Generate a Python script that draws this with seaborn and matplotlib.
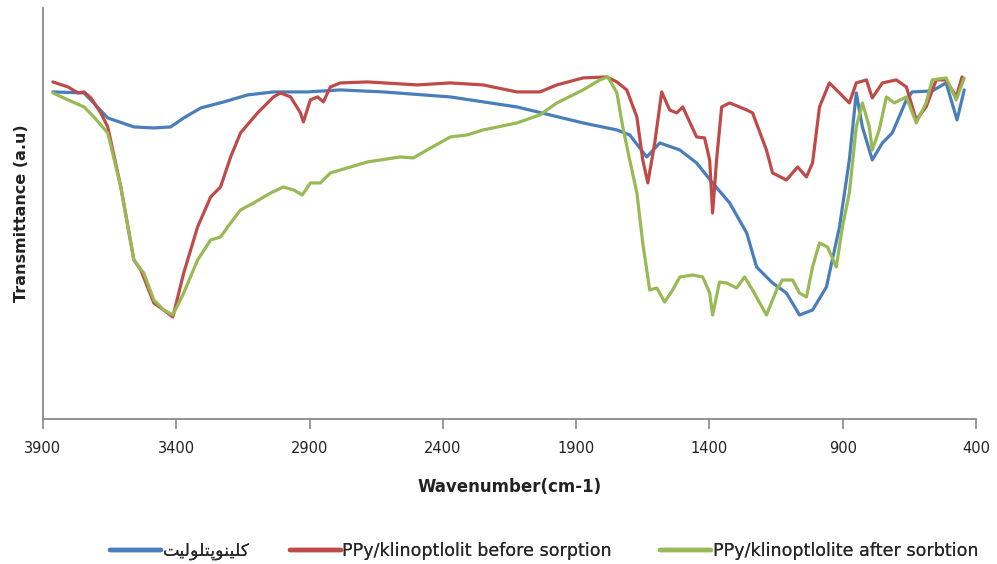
import matplotlib
matplotlib.use("Agg")
import matplotlib.pyplot as plt
import seaborn as sns
import pandas as pd
from matplotlib.lines import Line2D

# ---- data (wavenumber cm-1, transmittance a.u.) ----
blue_wn = [3863, 3746, 3657, 3559, 3484, 3421, 3372, 3308, 3222, 3132, 3035, 2908, 2784, 2623,
           2372, 2122, 1998, 1874, 1747, 1699, 1635, 1586, 1511, 1448, 1388, 1324, 1260, 1223,
           1163, 1111, 1062, 1013, 961, 912, 875, 849, 826, 789, 751, 714, 661, 639, 564, 512,
           471, 444]
blue_px = [92, 93, 118, 127, 128, 127, 118, 108, 102, 95, 92, 92, 90, 92,
           97, 107, 115, 123, 130, 135, 157, 143, 150, 163, 183, 203, 233, 267,
           283, 293, 315, 310, 287, 227, 160, 93, 127, 160, 143, 133, 100, 92, 91, 83,
           120, 90]

red_wn = [3863, 3806, 3769, 3746, 3720, 3683, 3657, 3608, 3559, 3533, 3484, 3447, 3413, 3372,
          3320, 3271, 3234, 3196, 3159, 3095, 3035, 3009, 2971, 2934, 2923, 2897, 2870, 2848,
          2822, 2784, 2683, 2496, 2372, 2249, 2122, 2036, 1972, 1874, 1785, 1747, 1710, 1672,
          1650, 1631, 1605, 1579, 1549, 1523, 1500, 1448, 1418, 1399, 1388, 1373, 1354, 1324,
          1260, 1238, 1186, 1163, 1111, 1069, 1036, 1013, 987, 950, 912, 875, 849, 811, 789,
          751, 699, 661, 624, 587, 549, 512, 474, 452]
red_px = [82, 87, 93, 92, 98, 113, 127, 187, 260, 270, 303, 310, 317, 273,
          227, 197, 187, 157, 133, 113, 97, 93, 97, 113, 122, 100, 97, 102,
          87, 83, 82, 85, 83, 85, 92, 92, 85, 78, 77, 82, 90, 117,
          160, 183, 143, 92, 110, 113, 107, 137, 138, 160, 213, 160, 107, 103,
          110, 113, 150, 173, 180, 167, 177, 163, 107, 83, 93, 103, 83, 80, 98,
          83, 80, 87, 120, 107, 80, 80, 97, 77]

green_wn = [3863, 3806, 3746, 3709, 3657, 3608, 3559, 3522, 3484, 3447, 3413, 3372, 3320, 3271,
            3234, 3196, 3159, 3110, 3046, 2998, 2960, 2927, 2897, 2859, 2822, 2784, 2683, 2560,
            2511, 2459, 2372, 2309, 2249, 2122, 2036, 1972, 1874, 1811, 1781, 1747, 1725, 1699,
            1672, 1650, 1624, 1597, 1568, 1538, 1511, 1463, 1425, 1399, 1388, 1362, 1335, 1298,
            1268, 1238, 1186, 1148, 1126, 1088, 1062, 1036, 1013, 987, 957, 924, 901, 875, 849,
            826, 800, 789, 763, 736, 706, 661, 624, 587, 564, 512, 474, 444]
green_px = [93, 100, 107, 117, 133, 187, 260, 273, 300, 310, 315, 293, 260, 240,
            237, 223, 210, 203, 193, 187, 190, 195, 183, 183, 173, 170, 162, 157,
            158, 150, 137, 135, 130, 123, 115, 103, 90, 80, 77, 93, 127, 160,
            193, 243, 290, 288, 302, 290, 277, 275, 277, 293, 315, 282, 283, 288,
            277, 290, 315, 290, 280, 280, 293, 297, 267, 243, 247, 267, 227, 193, 127,
            103, 127, 150, 130, 97, 103, 97, 123, 103, 80, 78, 100, 78]

series_names = ["کلینوپتلولیت",
                "PPy/klinoptlolit before sorption",
                "PPy/klinoptlolite after sorbtion"]
colors = ["#4A7EBB", "#BE4B48", "#98B954"]
x_ticks = [3900, 3400, 2900, 2400, 1900, 1400, 900, 400]


# --- minimal Arabic-script shaping (matplotlib has no bidi / joining) ---
# char: (isolated, final, initial, medial); None for right-joining-only letters
FORMS = {
    "\u06A9": ("\uFB8E", "\uFB8F", "\uFB90", "\uFB91"),  # keheh
    "\u0644": ("\uFEDD", "\uFEDE", "\uFEDF", "\uFEE0"),  # lam
    "\u06CC": ("\uFBFC", "\uFBFD", "\uFBFE", "\uFBFF"),  # farsi yeh
    "\u0646": ("\uFEE5", "\uFEE6", "\uFEE7", "\uFEE8"),  # noon
    "\u0648": ("\uFEED", "\uFEEE", None, None),          # waw
    "\u067E": ("\uFB56", "\uFB57", "\uFB58", "\uFB59"),  # peh
    "\u062A": ("\uFE95", "\uFE96", "\uFE97", "\uFE98"),  # teh
}


def shape_rtl(text):
    if not any(ch in FORMS for ch in text):
        return text
    out = []
    for i, ch in enumerate(text):
        if ch not in FORMS:
            out.append(ch)
            continue
        f = FORMS[ch]
        prev = text[i - 1] if i > 0 else None
        nxt = text[i + 1] if i + 1 < len(text) else None
        jp = prev in FORMS and FORMS[prev][2] is not None
        jn = nxt in FORMS and f[2] is not None
        if jp and jn:
            out.append(f[3])
        elif jp:
            out.append(f[1])
        elif jn:
            out.append(f[2])
        else:
            out.append(f[0])
    return "".join(reversed(out))


BASE = 410
frames = []
for name, wn, px in [(series_names[0], blue_wn, blue_px),
                     (series_names[1], red_wn, red_px),
                     (series_names[2], green_wn, green_px)]:
    frames.append(pd.DataFrame({"wn": wn, "T": [BASE - p for p in px], "series": name}))
df = pd.concat(frames, ignore_index=True)

sns.set_theme(style="white")
plt.rcParams["font.family"] = ["DejaVu Sans"]

fig = plt.figure(figsize=(9.97, 5.64), dpi=100)
ax = fig.add_axes([0.0431, 0.257, 0.9358, 0.729])

sns.lineplot(data=df, x="wn", y="T", hue="series", palette=colors,
             hue_order=series_names, estimator=None, sort=False,
             linewidth=2.3, ax=ax, legend=False)

ax.set_xlim(3900, 400)
ax.set_ylim(BASE - 419, BASE - 8)
ax.set_xticks(x_ticks)
ax.set_xticklabels([str(t) for t in x_ticks], fontsize=10.5, color="#222222")
ax.set_yticks([])
ax.tick_params(axis="x", direction="out", length=7, width=1.2, color="#888888",
               pad=9, bottom=True)
for s in ["top", "right"]:
    ax.spines[s].set_visible(False)
for s in ["left", "bottom"]:
    ax.spines[s].set_color("#8a8a8a")
    ax.spines[s].set_linewidth(1.3)

ax.set_xlabel("Wavenumber(cm-1)", fontsize=12, fontweight="bold", labelpad=16, color="#222222")
ax.set_ylabel("Transmittance (a.u)", fontsize=11.5, fontweight="bold", labelpad=10, color="#222222")

# legend entries placed along the bottom like the original
leg_x = [110 / 997, 290 / 997, 660 / 997]
for name, c, lx in zip(series_names, colors, leg_x):
    lg = fig.legend([Line2D([0], [0], color=c, linewidth=3.2)], [shape_rtl(name)],
                    loc="center left", bbox_to_anchor=(lx, 1 - 551 / 564),
                    frameon=False, fontsize=12.6, handlelength=2.9,
                    handletextpad=0.1, borderpad=0, borderaxespad=0)
    fig.add_artist(lg)

fig.savefig("out.png", dpi=100)
